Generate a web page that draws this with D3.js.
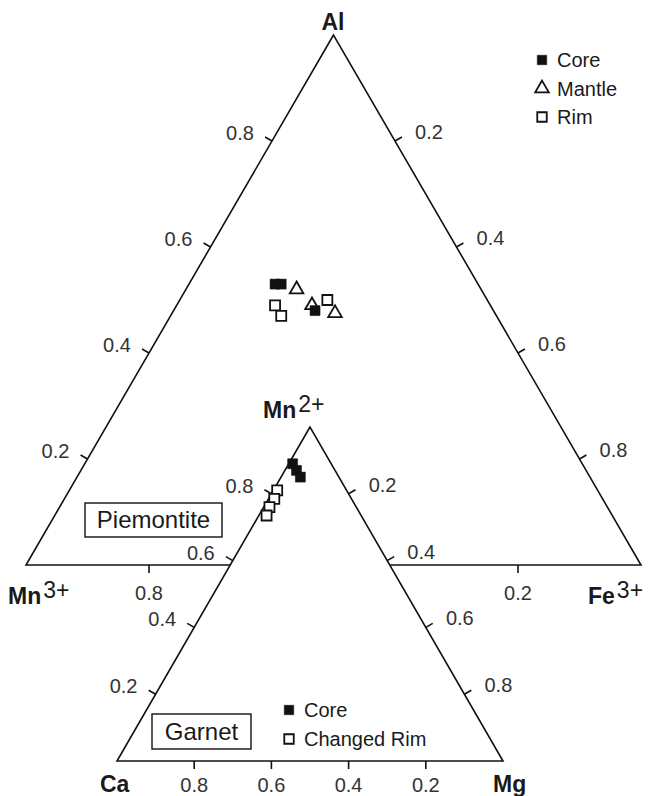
<!DOCTYPE html>
<html>
<head>
<meta charset="utf-8">
<script src="https://cdn.jsdelivr.net/npm/d3@7"></script>
<style>
body { margin: 0; background: #fff; }
text { font-family: "Liberation Sans", Arial, sans-serif; fill: #1a1a1a; }
</style>
</head>
<body>
<svg id="chart" width="652" height="796"></svg>
<script>
// piemontite: Al / Mn3+ / Fe3+ fractions
let piemCore = [
    {al: 0.53, mn: 0.33, fe: 0.14},
    {al: 0.53, mn: 0.32, fe: 0.15},
    {al: 0.48, mn: 0.29, fe: 0.23}
];
let piemMantle = [
    {al: 0.52, mn: 0.30, fe: 0.18},
    {al: 0.49, mn: 0.29, fe: 0.22},
    {al: 0.475, mn: 0.26, fe: 0.265}
];
let piemRim = [
    {al: 0.49, mn: 0.35, fe: 0.16},
    {al: 0.47, mn: 0.35, fe: 0.18},
    {al: 0.50, mn: 0.26, fe: 0.24}
];
// garnet: Mn2+ / Ca / Mg fractions
let garnetCore = [
    {mn: 0.89, ca: 0.10, mg: 0.01},
    {mn: 0.87, ca: 0.10, mg: 0.03},
    {mn: 0.85, ca: 0.10, mg: 0.05}
];
let garnetRim = [
    {mn: 0.81, ca: 0.18, mg: 0.01},
    {mn: 0.785, ca: 0.20, mg: 0.015},
    {mn: 0.76, ca: 0.225, mg: 0.015},
    {mn: 0.735, ca: 0.245, mg: 0.02}
];

let piemTicksLeft = [0.2, 0.4, 0.6, 0.8];
let piemTicksRight = [0.2, 0.4, 0.6, 0.8];
let piemTicksBottom = [0.8, 0.2];
let garnetTicksLeft = [0.2, 0.4, 0.6, 0.8];
let garnetTicksRight = [0.2, 0.4, 0.6, 0.8];
let garnetTicksBottom = [0.2, 0.4, 0.6, 0.8];

let svg = d3.select("#chart");
let fmt = d3.format(".1f");

function ternary(apex, left, right) {
    let sy = d3.scaleLinear().domain([0, 1]).range([left[1], apex[1]]);
    let sx = d3.scaleLinear().domain([0, 1]).range([left[0], right[0]]);
    // top = apex fraction, r = right-vertex fraction
    return function(top, r) { return [sx(r + top / 2), sy(top)]; };
}

let piem = ternary([333.5, 35], [26, 565], [641, 565]);
let garnet = ternary([310, 427], [117, 761], [503, 761]);

function drawFrame(g, proj, fill) {
    let pts = [proj(1, 0), proj(0, 0), proj(0, 1)];
    g.append("path")
        .attr("d", "M" + pts.join("L") + "Z")
        .style("fill", fill)
        .style("stroke", "#111")
        .style("stroke-width", 1.6);
}

function drawTicks(g, proj, leftTicks, rightTicks, bottomTicks, bottomOff) {
    let len = 8;
    let axes = [
        {ticks: leftTicks, pos: (v) => proj(v, 0), n: [-0.866, -0.5], off: [-32, -8]},
        {ticks: rightTicks, pos: (v) => proj(1 - v, v), n: [0.866, -0.5], off: [34, -9]},
        {ticks: bottomTicks, pos: (v) => proj(0, 1 - v), n: [0, 1], off: [0, bottomOff]}
    ];
    axes.forEach(function(a) {
        let t = g.selectAll(null).data(a.ticks).enter().append("g");
        t.append("line")
            .attr("x1", (d) => a.pos(d)[0])
            .attr("y1", (d) => a.pos(d)[1])
            .attr("x2", (d) => a.pos(d)[0] + a.n[0] * len)
            .attr("y2", (d) => a.pos(d)[1] + a.n[1] * len)
            .style("stroke", "#111")
            .style("stroke-width", 1.6);
        t.append("text")
            .attr("x", (d) => a.pos(d)[0] + a.off[0])
            .attr("y", (d) => a.pos(d)[1] + a.off[1])
            .attr("dy", "0.35em")
            .style("text-anchor", "middle")
            .style("font-size", "20px")
            .style("fill", "#333")
            .text((d) => fmt(d));
    });
}

function drawPoints(g, data, xy, type, filled) {
    let size = type == "triangle" ? 80 : 100;
    g.selectAll(null).data(data).enter().append("path")
        .attr("d", d3.symbol().type(type == "triangle" ? d3.symbolTriangle : d3.symbolSquare).size(size))
        .attr("transform", (d) => `translate(${xy(d)})`)
        .style("fill", filled ? "#111" : "#fff")
        .style("stroke", "#111")
        .style("stroke-width", filled ? 0.5 : 1.8);
}

function vertexLabel(x, y, main, sup, anchor) {
    let t = svg.append("text")
        .attr("x", x).attr("y", y)
        .style("text-anchor", anchor)
        .style("font-size", "23px")
        .style("font-weight", "bold");
    t.append("tspan").text(main);
    if (sup) {
        t.append("tspan").attr("dx", 2).attr("dy", -6)
            .style("font-weight", "normal").style("font-size", "23px").text(sup);
    }
}

function boxLabel(x, y, w, h, label) {
    svg.append("rect")
        .attr("x", x).attr("y", y).attr("width", w).attr("height", h)
        .style("fill", "#fff").style("stroke", "#111").style("stroke-width", 1.4);
    svg.append("text")
        .attr("x", x + w / 2).attr("y", y + h / 2)
        .attr("dy", "0.35em")
        .style("text-anchor", "middle")
        .style("font-size", "24px")
        .text(label);
}

function legend(x, y, items, step) {
    items.forEach(function(it, i) {
        let yy = y + i * step;
        svg.append("path")
            .attr("d", d3.symbol().type(it.type == "triangle" ? d3.symbolTriangle : d3.symbolSquare).size(it.type == "triangle" ? 80 : 90))
            .attr("transform", `translate(${x},${yy - 7})`)
            .style("fill", it.filled ? "#111" : "#fff")
            .style("stroke", "#111")
            .style("stroke-width", it.filled ? 0.5 : 1.8);
        svg.append("text")
            .attr("x", x + 15).attr("y", yy)
            .style("font-size", "20px")
            .text(it.label);
    });
}

// piemontite triangle
let gP = svg.append("g");
drawFrame(gP, piem, "none");
drawTicks(gP, piem, piemTicksLeft, piemTicksRight, piemTicksBottom, 28);
let piemXY = (d) => piem(d.al, d.fe);
drawPoints(gP, piemRim, piemXY, "square", false);
drawPoints(gP, piemMantle, piemXY, "triangle", false);
drawPoints(gP, piemCore, piemXY, "square", true);

vertexLabel(333, 30, "Al", null, "middle");
vertexLabel(8, 604, "Mn", "3+", "start");
vertexLabel(588, 604, "Fe", "3+", "start");
boxLabel(85, 503, 137, 34, "Piemontite");
legend(542, 67, [
    {label: "Core", type: "square", filled: true},
    {label: "Mantle", type: "triangle", filled: false},
    {label: "Rim", type: "square", filled: false}
], 28.5);

// garnet triangle
let gG = svg.append("g");
drawFrame(gG, garnet, "#fff");
drawTicks(gG, garnet, garnetTicksLeft, garnetTicksRight, garnetTicksBottom, 24);
let garnetXY = (d) => garnet(d.mn, d.mg);
drawPoints(gG, garnetRim, garnetXY, "square", false);
drawPoints(gG, garnetCore, garnetXY, "square", true);

vertexLabel(263, 418, "Mn", "2+", "start");
vertexLabel(100, 792, "Ca", null, "start");
vertexLabel(493, 792, "Mg", null, "start");
boxLabel(152, 714, 99, 35, "Garnet");
legend(289, 717, [
    {label: "Core", type: "square", filled: true},
    {label: "Changed Rim", type: "square", filled: false}
], 29);
</script>
</body>
</html>
